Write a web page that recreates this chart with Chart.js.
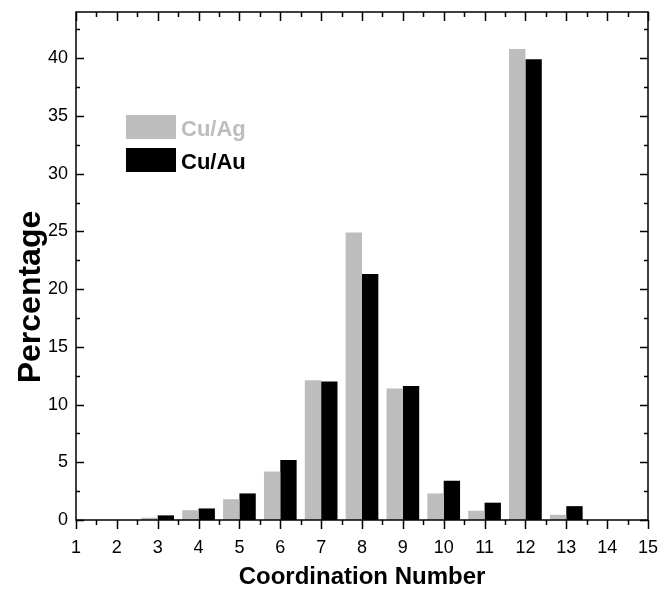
<!DOCTYPE html>
<html>
<head>
<meta charset="utf-8">
<script src="https://cdn.jsdelivr.net/npm/chart.js@4.4.1/dist/chart.umd.min.js"></script>
<style>
html,body{margin:0;padding:0;background:#fff;}
#wrap{width:668px;height:589px;}
</style>
</head>
<body>
<div id="wrap"><canvas id="c" width="668" height="589"></canvas></div>
<script>
const coordination = [3, 4, 5, 6, 7, 8, 9, 10, 11, 12, 13];
const cuAg = [0.2, 0.85, 1.8, 4.2, 12.1, 24.9, 11.4, 2.3, 0.8, 40.8, 0.45];
const cuAu = [0.4, 1.0, 2.3, 5.2, 12.0, 21.3, 11.6, 3.4, 1.5, 39.9, 1.2];
const seriesNames = ['Cu/Ag', 'Cu/Au'];
const seriesColors = ['#bdbdbd', '#000000'];
const xTitle = 'Coordination Number';
const yTitle = 'Percentage';
const xMin = 1, xMax = 15, yMin = 0, yMax = 44;

const FONT = '"Liberation Sans", Arial, Helvetica, sans-serif';

const framePlugin = {
  id: 'frame',
  afterDraw(chart) {
    const ctx = chart.ctx;
    const a = chart.chartArea;
    const xs = chart.scales.x, ys = chart.scales.y;
    ctx.save();
    ctx.strokeStyle = '#000';
    ctx.lineWidth = 1.5;
    ctx.strokeRect(a.left, a.top, a.right - a.left, a.bottom - a.top);
    ctx.beginPath();
    for (let v = xMin; v <= xMax + 1e-9; v += 0.5) {
      const px = Math.round(xs.getPixelForValue(v)) + 0.5;
      const major = Math.abs(v - Math.round(v)) < 1e-9;
      const len = major ? 9 : 5;
      ctx.moveTo(px, a.bottom); ctx.lineTo(px, a.bottom + len);
      ctx.moveTo(px, a.top); ctx.lineTo(px, a.top + len);
    }
    for (let v = yMin; v <= yMax + 1e-9; v += 2.5) {
      const py = Math.round(ys.getPixelForValue(v)) + 0.5;
      const major = Math.abs(v / 5 - Math.round(v / 5)) < 1e-9;
      const len = major ? 8 : 4;
      ctx.moveTo(a.left, py); ctx.lineTo(a.left + len, py);
      ctx.moveTo(a.right, py); ctx.lineTo(a.right - len, py);
    }
    ctx.stroke();

    ctx.fillStyle = '#000';
    ctx.font = 'bold 24px ' + FONT;
    ctx.textAlign = 'center';
    ctx.textBaseline = 'alphabetic';
    ctx.fillText(xTitle, (a.left + a.right) / 2, 584);
    ctx.save();
    ctx.translate(31, 297);
    ctx.rotate(-Math.PI / 2);
    ctx.font = 'bold 32px ' + FONT;
    ctx.textBaseline = 'middle';
    ctx.fillText(yTitle, 0, 0);
    ctx.restore();

    const lx = a.left + 50, ly = a.top + 103;
    ctx.font = 'bold 22px ' + FONT;
    ctx.textAlign = 'left';
    ctx.textBaseline = 'alphabetic';
    for (let i = 0; i < seriesNames.length; i++) {
      const y0 = ly + i * 33;
      ctx.fillStyle = seriesColors[i];
      ctx.fillRect(lx, y0, 50, 24);
      ctx.fillText(seriesNames[i], lx + 55, y0 + 21);
    }
    ctx.restore();
  }
};

new Chart(document.getElementById('c'), {
  type: 'bar',
  data: {
    datasets: [
      {
        label: seriesNames[0],
        data: coordination.map((x, i) => ({ x: x, y: cuAg[i] })),
        backgroundColor: seriesColors[0],
        borderWidth: 0,
        categoryPercentage: 0.8,
        barPercentage: 1.0
      },
      {
        label: seriesNames[1],
        data: coordination.map((x, i) => ({ x: x, y: cuAu[i] })),
        backgroundColor: seriesColors[1],
        borderWidth: 0,
        categoryPercentage: 0.8,
        barPercentage: 1.0
      }
    ]
  },
  options: {
    responsive: false,
    animation: false,
    devicePixelRatio: 1,
    layout: { padding: { left: 0, right: 20, top: 12, bottom: 0 } },
    plugins: { legend: { display: false }, tooltip: { enabled: false }, title: { display: false } },
    scales: {
      x: {
        type: 'linear',
        min: xMin,
        max: xMax,
        offset: false,
        grid: { display: false, drawTicks: false, tickLength: 0 },
        border: { display: false },
        ticks: {
          stepSize: 1,
          color: '#000',
          font: { family: FONT, size: 18 },
          padding: 17,
          maxRotation: 0,
          autoSkip: false
        },
        afterFit(scale) { scale.height = 69; scale.paddingLeft = 0; scale.paddingRight = 0; }
      },
      y: {
        min: yMin,
        max: yMax,
        grid: { display: false, drawTicks: false, tickLength: 0 },
        border: { display: false },
        ticks: {
          stepSize: 5,
          includeBounds: false,
          color: '#000',
          font: { family: FONT, size: 18 },
          padding: 8
        },
        afterFit(scale) { scale.width = 76; scale.paddingTop = 0; scale.paddingBottom = 0; }
      }
    }
  },
  plugins: [framePlugin]
});
</script>
</body>
</html>
